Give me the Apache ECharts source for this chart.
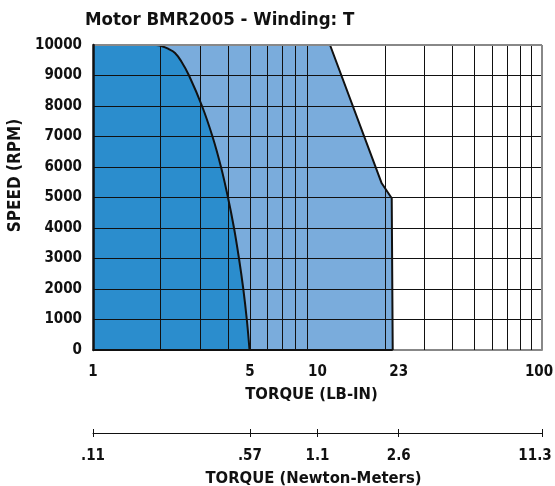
<!DOCTYPE html>
<html>
<head>
<meta charset="utf-8">
<script src="https://cdn.jsdelivr.net/npm/echarts@6/dist/echarts.min.js"></script>
<style>
html,body{margin:0;padding:0;background:#fff;}
#chart{width:555px;height:486px;}
</style>
</head>
<body>
<div id="chart"></div>
<script>
// Tick labels
const lbInTicks = [1, 5, 10, 23, 100];
const nmTickLabels = ['.11', '.57', '1.1', '2.6', '11.3'];
// Grid line positions
const gridTorque = [2, 3, 4, 5, 6, 7, 8, 9, 20, 30, 40, 50, 60, 70, 80, 90];
const gridSpeed = [1000, 2000, 3000, 4000, 5000, 6000, 7000, 8000, 9000];
// Peak (intermittent) region boundary
const peakTorque = [1, 11.37, 19.32, 21.41, 21.63, 21.63];
const peakSpeed  = [10000, 10000, 5466, 4974, 4950, 0];
// Continuous region boundary
const contTorque = [1, 1.909, 2.029, 2.159, 2.319, 2.479, 2.677, 3.059, 3.406, 3.717, 3.993, 4.247, 4.470, 4.672, 4.843, 4.980];
const contSpeed  = [10000, 10000, 9960, 9880, 9740, 9450, 9000, 8000, 7000, 6000, 5000, 4000, 3000, 2000, 1000, 0];

const FONT = "'DejaVu Sans Condensed','Liberation Sans Narrow',sans-serif";
const pair = (xs, ys) => xs.map((x, i) => [x, ys[i]]);
const peakData = pair(peakTorque, peakSpeed);
const contData = pair(contTorque, contSpeed);
const lblStyle = {fontFamily: FONT, fontWeight: 'bold', color: '#111'};
const richLast = (pad) => ({last: {fontFamily: FONT, fontWeight: 'bold', color: '#111', fontSize: 15, padding: [0, pad, 0, 0]}});
const lastVal = lbInTicks[lbInTicks.length - 1];

const chart = echarts.init(document.getElementById('chart'), null, {renderer: 'canvas'});
chart.setOption({
  animation: false,
  backgroundColor: '#fff',
  title: {
    text: 'Motor BMR2005 - Winding: T',
    left: 80, top: 6,
    textStyle: {fontFamily: FONT, fontWeight: 'bold', fontSize: 18.5, color: '#111'}
  },
  grid: {left: 93, right: 13, top: 45, bottom: 136, outerBoundsMode: 'none', containLabel: false},
  xAxis: [
    {
      type: 'log', logBase: 10, min: 1, max: 100,
      axisLine: {show: true, lineStyle: {color: '#888', width: 2}},
      axisTick: {show: false},
      splitLine: {show: false},
      minorSplitLine: {show: false},
      axisLabel: Object.assign({customValues: lbInTicks, fontSize: 15, margin: 15,
        rich: richLast(6),
        formatter: v => {
          const r = Math.round(v);
          return r === lastVal ? '{last|' + r + '}' : String(r);
        }}, lblStyle),
      name: 'TORQUE (LB-IN)', nameLocation: 'middle', nameGap: 36,
      nameTextStyle: Object.assign({fontSize: 16.5, padding: [0, 12, 0, 0]}, lblStyle)
    },
    {
      type: 'log', logBase: 10, min: 1, max: 100, position: 'bottom', offset: 83,
      axisLine: {show: true, lineStyle: {color: '#111', width: 1}},
      axisTick: {show: true, customValues: lbInTicks, length: 4, lineStyle: {color: '#111', width: 1}},
      splitLine: {show: false},
      axisLabel: Object.assign({customValues: lbInTicks, fontSize: 15, margin: 16,
        rich: richLast(14),
        formatter: v => {
          const r = Math.round(v);
          const t = nmTickLabels[lbInTicks.indexOf(r)] || '';
          return r === lastVal ? '{last|' + t + '}' : t;
        }}, lblStyle),
      name: 'TORQUE (Newton-Meters)', nameLocation: 'middle', nameGap: 37,
      nameTextStyle: Object.assign({fontSize: 16.5, padding: [0, 8, 0, 0]}, lblStyle)
    },
    {
      type: 'log', logBase: 10, min: 1, max: 100, position: 'bottom', offset: 83,
      axisLine: {show: false},
      axisTick: {show: true, inside: true, customValues: lbInTicks, length: 4, lineStyle: {color: '#111', width: 1}},
      splitLine: {show: false},
      axisLabel: {show: false}
    }
  ],
  yAxis: {
    type: 'value', min: 0, max: 10000, interval: 1000, z: 5,
    axisLine: {show: true, lineStyle: {color: '#111', width: 2.5}},
    axisTick: {show: false},
    splitLine: {show: false},
    axisLabel: Object.assign({fontSize: 15, margin: 11, formatter: v => String(v)}, lblStyle),
    name: 'SPEED (RPM)', nameLocation: 'middle', nameGap: 59, nameRotate: 90,
    nameTextStyle: Object.assign({fontSize: 17, padding: [0, 0, 0, 44]}, lblStyle)
  },
  series: [
    {
      type: 'line', z: 1, data: peakData, symbol: 'none', silent: true,
      lineStyle: {width: 0, opacity: 0},
      areaStyle: {color: '#7aacdc', opacity: 1}
    },
    {
      type: 'line', z: 2, data: contData, symbol: 'none', silent: true,
      smooth: 0.4,
      lineStyle: {width: 0, opacity: 0},
      areaStyle: {color: '#2b8dcd', opacity: 1}
    },
    {
      type: 'line', z: 3, data: [], symbol: 'none', silent: true,
      markLine: {
        silent: true, symbol: ['none', 'none'], label: {show: false},
        lineStyle: {type: 'solid', color: '#111', width: 1},
        data: gridTorque.map(v => ({xAxis: v})).concat(gridSpeed.map(v => ({yAxis: v})))
      }
    },
    {
      type: 'line', z: 3, data: [], symbol: 'none', silent: true,
      markLine: {
        silent: true, symbol: ['none', 'none'], label: {show: false},
        lineStyle: {type: 'solid', color: '#888', width: 2},
        data: [{xAxis: 100}, {yAxis: 10000}]
      }
    },
    {
      type: 'line', z: 4, data: peakData, symbol: 'none', silent: true,
      lineStyle: {color: '#111', width: 2}
    },
    {
      type: 'line', z: 4, data: [[peakTorque[0], 0], [peakTorque[peakTorque.length - 1], 0]],
      symbol: 'none', silent: true,
      lineStyle: {color: '#111', width: 2}
    },
    {
      type: 'line', z: 4, data: contData, symbol: 'none', silent: true,
      smooth: 0.4,
      lineStyle: {color: '#111', width: 2}
    }
  ]
});
</script>
</body>
</html>
